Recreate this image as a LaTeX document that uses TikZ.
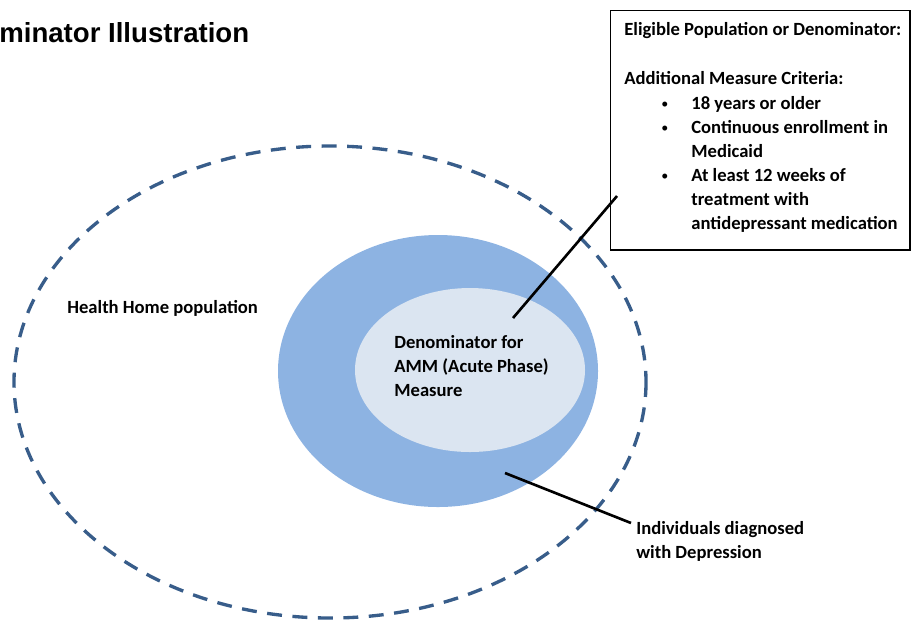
\documentclass[tikz,border=0pt]{standalone}
\usepackage{fontspec}
\setmainfont{Carlito}
\newfontfamily\arialfont{Liberation Sans}

\definecolor{popblue}{HTML}{385D8A}
\definecolor{depblue}{HTML}{8DB3E2}
\definecolor{ammblue}{HTML}{DBE5F1}

\begin{document}
\begin{tikzpicture}[x=0.02cm,y=-0.02cm,
    lbl/.style={anchor=base west,inner sep=0pt,font=\fontsize{10.6}{13.6}\selectfont\bfseries},
    dot/.style={lbl,font=\fontsize{8}{10}\selectfont},
    lead/.style={black,line width=1.5pt}]
\useasboundingbox (0,0) rectangle (911,620);

\node[anchor=base west,inner sep=0pt,font=\arialfont\fontsize{15.7}{19}\selectfont\bfseries] (title) at (-1,42) {minator Illustration};

% population ellipses
\draw[popblue,line width=1.9pt,dash pattern=on 8.5pt off 6pt] (330,382) ellipse [x radius=316,y radius=236];
\fill[depblue] (438,371) ellipse [x radius=160,y radius=136];
\fill[ammblue] (470,370) ellipse [x radius=115,y radius=82];

\node[lbl] (hh) at (67,313) {Health Home population};
\node[lbl] (amm1) at (394,348) {Denominator for};
\node[lbl] (amm2) at (394,372) {AMM (Acute Phase)};
\node[lbl] (amm3) at (394,396) {Measure};

% criteria box
\node[draw,line width=0.6pt,fill=white,minimum width=6cm,minimum height=4.8cm,inner sep=0pt] (crit) at (760,130) {};
\node[lbl] (elig) at (624,35) {Eligible Population or Denominator:};
\node[lbl] (addl) at (624,84) {Additional Measure Criteria:};
\node[dot] (b1) at (661,108) {\textbullet};
\node[lbl] (c1) at (691,109) {18 years or older};
\node[dot] (b2) at (661,132) {\textbullet};
\node[lbl] (c2) at (691,133) {Continuous enrollment in};
\node[lbl] (c2b) at (691,157) {Medicaid};
\node[dot] (b3) at (661,180) {\textbullet};
\node[lbl] (c3) at (691,181) {At least 12 weeks of};
\node[lbl] (c3b) at (691,205) {treatment with};
\node[lbl] (c3c) at (691,229) {antidepressant medication};

\node[lbl] (dep1) at (636,534) {Individuals diagnosed};
\node[lbl] (dep2) at (636,558) {with Depression};

% leader lines
\coordinate (inpt) at (513,318);
\coordinate (boxpt) at (617,196);
\coordinate (rimpt) at (505,473);
\coordinate (deppt) at (631,523);
\draw[lead] (inpt) -- (boxpt);
\draw[lead] (rimpt) -- (deppt);
\end{tikzpicture}
\end{document}
